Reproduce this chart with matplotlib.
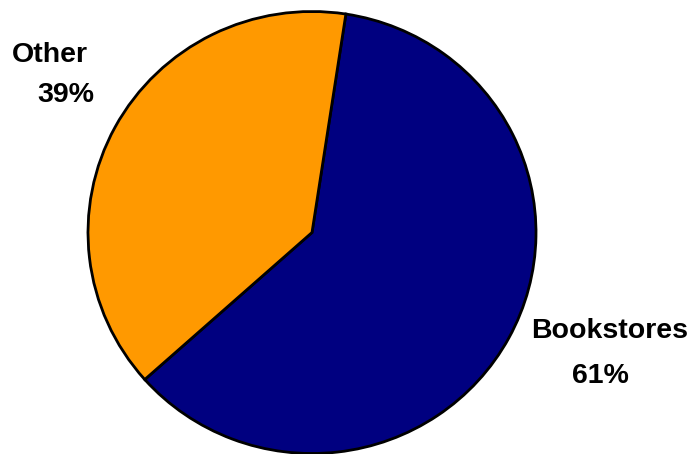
import matplotlib.pyplot as plt

labels = ["Bookstores", "Other"]
values = [61, 39]
colors = ["#000080", "#FF9900"]

plt.rcParams['font.family'] = ['Liberation Sans', 'DejaVu Sans']

W, H = 696, 454
fig = plt.figure(figsize=(W / 100, H / 100), dpi=100)

# pie centre and radii in pixels (slightly elliptical in the original)
cx, cy, rx, ry = 312, 232.5, 224, 221
ax = fig.add_axes([(cx - rx) / W, (H - cy - ry) / H, 2 * rx / W, 2 * ry / H])
ax.pie(values, colors=colors, startangle=81.3, counterclock=False,
       radius=1, wedgeprops=dict(edgecolor="black", linewidth=2))
ax.set_xlim(-1, 1)
ax.set_ylim(-1, 1)
ax.set_aspect("auto")
ax.axis("off")
for p in ax.patches:
    p.set_clip_on(False)

# label positions in pixels (name centre x, name baseline y, pct centre x, pct baseline y)
pos = {"Bookstores": (610, 338, 600, 383), "Other": (50, 62, 66, 102)}
for lab, v in zip(labels, values):
    nx, ny, px, py = pos[lab]
    fig.text(nx / W, 1 - ny / H, lab, ha="center", va="baseline",
             fontsize=20.5, fontweight="bold")
    fig.text(px / W, 1 - py / H, f"{v}%", ha="center", va="baseline",
             fontsize=20.5, fontweight="bold")

fig.savefig("out.png", dpi=100)
